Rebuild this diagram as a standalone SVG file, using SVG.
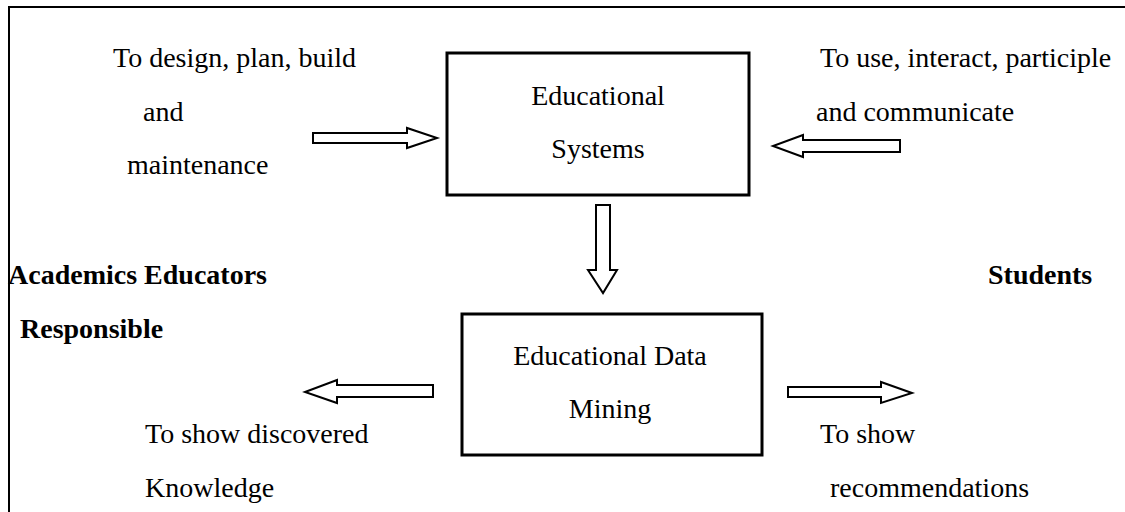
<svg xmlns="http://www.w3.org/2000/svg" width="1125" height="512" viewBox="0 0 1125 512">
<style>
text{font-family:"Liberation Serif","Times New Roman",serif;font-size:28px;fill:#000}
.b{font-weight:bold}
.c{text-anchor:middle}
.box{fill:#fff;stroke:#000;stroke-width:3}
.arr{fill:#fff;stroke:#000;stroke-width:2;stroke-linejoin:miter}
.frame{fill:none;stroke:#000;stroke-width:2}
</style>
<rect width="1125" height="512" fill="#fff"/>
<path class="frame" d="M9,512 V7 H1125"/>
<g id="connectors">
<polygon class="arr" points="313,133 407,133 407,128 437,138 407,148 407,143 313,143"/>
<polygon class="arr" points="900,140 803,140 803,135 773,146 803,157 803,152 900,152"/>
<polygon class="arr" points="596,205 610,205 610,270 617,270 603,293 588,270 596,270"/>
<polygon class="arr" points="433,385 337,385 337,380 305,392 337,403 337,397 433,397"/>
<polygon class="arr" points="788,387 881,387 881,382 912,393 881,403 881,397 788,397"/>
</g>
<g id="educational-systems">
<rect class="box" x="447" y="53" width="302" height="142"/>
<text class="c" x="598" y="105">Educational</text>
<text class="c" x="598" y="158">Systems</text>
</g>
<g id="educational-data-mining">
<rect class="box" x="462" y="314" width="300" height="141"/>
<text class="c" x="610" y="365">Educational Data</text>
<text class="c" x="610" y="418">Mining</text>
</g>
<g id="academics-educators">
<text class="b" x="8" y="284">Academics Educators</text>
<text class="b" x="20" y="338">Responsible</text>
</g>
<g id="students">
<text class="b" x="988" y="284">Students</text>
</g>
<g id="label-design">
<text x="113" y="67">To design, plan, build</text>
<text x="143" y="121">and</text>
<text x="127" y="174">maintenance</text>
</g>
<g id="label-use">
<text x="820" y="67">To use, interact, participle</text>
<text x="816" y="121">and communicate</text>
</g>
<g id="label-knowledge">
<text x="145" y="443">To show discovered</text>
<text x="145" y="497">Knowledge</text>
</g>
<g id="label-recommendations">
<text x="820" y="443">To show</text>
<text x="830" y="497">recommendations</text>
</g>
</svg>
